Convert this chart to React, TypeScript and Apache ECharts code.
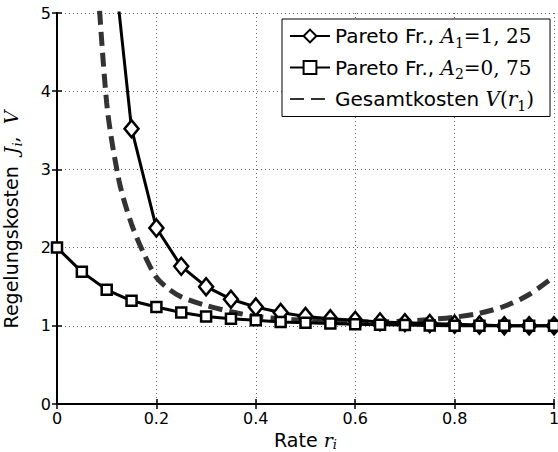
import React, { useEffect, useRef } from "react";
import * as echarts from "echarts";

// Rate r_i
const xDiamond = [0.1, 0.15, 0.2, 0.25, 0.3, 0.35, 0.4, 0.45, 0.5, 0.55, 0.6, 0.65, 0.7, 0.75, 0.8, 0.85, 0.9, 0.95, 1.0];
const yDiamond = [6.5, 3.52, 2.25, 1.76, 1.5, 1.34, 1.24, 1.17, 1.12, 1.09, 1.07, 1.05, 1.04, 1.03, 1.02, 1.01, 1.0, 1.0, 1.0];

const xSquare = [0, 0.05, 0.1, 0.15, 0.2, 0.25, 0.3, 0.35, 0.4, 0.45, 0.5, 0.55, 0.6, 0.65, 0.7, 0.75, 0.8, 0.85, 0.9, 0.95, 1.0];
const ySquare = [2.0, 1.69, 1.46, 1.32, 1.24, 1.17, 1.12, 1.09, 1.07, 1.05, 1.04, 1.03, 1.02, 1.015, 1.01, 1.005, 1.0, 1.0, 1.0, 1.0, 1.0];

const xTotal = [0.075, 0.1, 0.125, 0.15, 0.175, 0.2, 0.225, 0.25, 0.3, 0.35, 0.4, 0.45, 0.5, 0.55, 0.6, 0.65, 0.7, 0.75, 0.8, 0.85, 0.9, 0.95, 1.0];
const yTotal = [6.1, 3.85, 2.85, 2.3, 1.92, 1.62, 1.47, 1.37, 1.26, 1.18, 1.12, 1.09, 1.07, 1.06, 1.05, 1.05, 1.06, 1.08, 1.11, 1.16, 1.25, 1.4, 1.63];

const nameD = "Pareto Fr., A1=1,25";
const nameS = "Pareto Fr., A2=0,75";
const nameV = "Gesamtkosten V(r1)";

const pairs = (xs: number[], ys: number[]) => xs.map((x, i) => [x, ys[i]]);

const SANS = "DejaVu Sans";
const SERIF = "DejaVu Serif";

export default function App() {
  const ref = useRef<HTMLDivElement>(null);
  useEffect(() => {
    if (!ref.current) return;
    const chart = echarts.init(ref.current, undefined, { renderer: "svg" });
    const mk = (fs: number, ms: number, lh: number, sub: number) => ({
      n: { fontFamily: SANS, fontSize: fs, color: "#000", lineHeight: lh },
      m: { fontFamily: SERIF, fontStyle: "italic", fontSize: ms, color: "#000", lineHeight: lh },
      r: { fontFamily: SERIF, fontSize: ms, color: "#000", lineHeight: lh },
      s: { fontFamily: SERIF, fontSize: Math.round(ms * 0.7), color: "#000", lineHeight: lh, verticalAlign: "bottom", padding: [0, 0, sub, 0] },
      si: { fontFamily: SERIF, fontStyle: "italic", fontSize: Math.round(ms * 0.7), color: "#000", lineHeight: lh, verticalAlign: "bottom", padding: [0, 0, sub, 0] },
      g: { width: 22, lineHeight: lh },
    });
    const legendRich = mk(20, 20, 21, -3);
    const xNameRich = mk(19, 19, 18, -2);
    const yNameRich = mk(19, 19, 20, -3);
    const axisCommon = {
      type: "value",
      min: 0,
      axisLine: { show: true, lineStyle: { color: "#000", width: 2 } },
      axisTick: { show: true, inside: true, length: 5, lineStyle: { color: "#000", width: 1.5 } },
    };
    chart.setOption({
      animation: false,
      backgroundColor: "#fff",
      grid: { left: 57, top: 13, right: 4, bottom: 48, containLabel: false, outerBoundsMode: "none" },
      xAxis: [
        {
          ...axisCommon,
          position: "bottom",
          max: 1,
          interval: 0.2,
          name: "{n|Rate }{m|r}{si|i}",
          nameLocation: "middle",
          nameGap: 24,
          nameTextStyle: { rich: xNameRich },
          axisLabel: { fontFamily: SANS, fontSize: 16, color: "#000", margin: 6 },
          splitLine: { show: true, lineStyle: { color: "#666", type: [1, 3], width: 1 } },
        },
        {
          ...axisCommon,
          position: "top",
          max: 1,
          interval: 0.2,
          axisLabel: { show: false },
          splitLine: { show: false },
        },
      ],
      yAxis: [
        {
          ...axisCommon,
          position: "left",
          max: 5,
          interval: 1,
          name: "{n|Regelungskosten  }{m|J}{si|i}{r|,  }{m|V}{g|}",
          nameLocation: "middle",
          nameGap: 36,
          nameTextStyle: { rich: yNameRich },
          axisLabel: { fontFamily: SANS, fontSize: 16, color: "#000", margin: 6 },
          splitLine: { show: true, lineStyle: { color: "#666", type: [1, 3], width: 1 } },
        },
        {
          ...axisCommon,
          position: "right",
          max: 5,
          interval: 1,
          axisLabel: { show: false },
          splitLine: { show: false },
        },
      ],
      legend: {
        data: [nameD, nameS, nameV],
        orient: "vertical",
        left: 282,
        top: 19,
        backgroundColor: "#fff",
        borderColor: "#000",
        borderWidth: 1,
        borderRadius: 0,
        padding: [7, 16, 4, 7],
        itemGap: 8,
        itemWidth: 40,
        itemHeight: 16,
        textStyle: { rich: legendRich },
        formatter: (name: string) => {
          if (name === nameD) return "{n|Pareto Fr., }{m|A}{s|1}{r|=1, 25}";
          if (name === nameS) return "{n|Pareto Fr., }{m|A}{s|2}{r|=0, 75}";
          return "{n|Gesamtkosten }{m|V}{r|(}{m|r}{s|1}{r|)}";
        },
      },
      series: [
        {
          name: nameV,
          type: "line",
          data: pairs(xTotal, yTotal),
          smooth: 0.3,
          showSymbol: false,
          symbol: "none",
          clip: true,
          lineStyle: { color: "#333", width: 5, type: [14, 7] },
          itemStyle: { color: "rgba(0,0,0,0)", borderWidth: 0 },
          z: 2,
        },
        {
          name: nameD,
          type: "line",
          data: pairs(xDiamond, yDiamond),
          symbol: "diamond",
          symbolSize: [14, 17],
          clip: true,
          lineStyle: { color: "#000", width: 3 },
          itemStyle: { color: "#fff", borderColor: "#000", borderWidth: 2.5 },
          z: 3,
        },
        {
          name: nameS,
          type: "line",
          data: pairs(xSquare, ySquare),
          symbol: "rect",
          symbolSize: 10,
          clip: true,
          lineStyle: { color: "#000", width: 3 },
          itemStyle: { color: "#fff", borderColor: "#000", borderWidth: 2.5 },
          z: 4,
        },
      ],
    });
    return () => chart.dispose();
  }, []);
  return <div ref={ref} style={{ width: 558, height: 452, position: "absolute", left: 0, top: 0 }} />;
}
